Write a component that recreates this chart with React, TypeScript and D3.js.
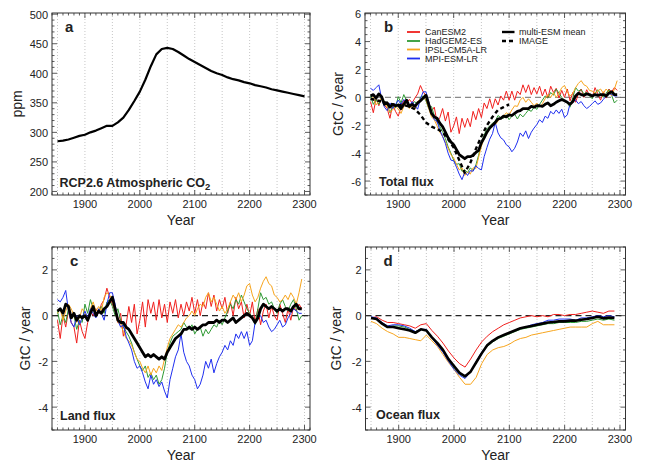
import React from 'react';
import * as d3 from 'd3';

const FONT = '"Liberation Sans", Arial, Helvetica, sans-serif';
const X_DOMAIN: [number, number] = [1840, 2310];

// Colours
const C_RED = '#f0201e';
const C_GREEN = '#2f9a34';
const C_ORANGE = '#f7a51e';
const C_BLUE = '#1f2ff0';

// ---------- Panel a: RCP2.6 CO2 (10-yr, 1850-2300) ----------
const co2Start = 1850;
const co2 = [285, 286, 288, 291, 294, 296, 300, 303, 307, 311, 311, 317, 325, 338, 353, 369, 389, 412, 432, 441,
  443, 441, 436, 430, 424, 419, 414, 409, 404, 400, 397, 393, 390, 388, 385, 383, 380, 378, 376, 373,
  371, 369, 367, 365, 363, 361];

// ---------- Panel b: total flux (5-yr, 1850-2295) ----------
const fluxStart = 1850;
const totalCanESM2 = [-0.3, -1.1, -0.1, -0.6, 0.0, -0.55, -0.8, -1.5, -0.5, -1.0,
  -1.35, -0.7, -0.2, -0.4, -0.15, -0.4, -0.05, 0.25, 0.85, 0.4,
  0.1, -0.35, -1.0, -0.7, -1.8, -1.45, -0.8, -1.7, -1.05, -2.5,
  -2.05, -1.4, -2.6, -1.5, -2.15, -1.5, -2.1, -1.0, -1.6, -0.8,
  -1.45, -0.4, -0.8, -0.1, -0.8, -0.1, -0.55, 0.1, -0.2, 0.45,
  -0.2, 0.45, -0.2, 0.45, 0.2, 0.9, 0.35, 0.9, 0.2, 0.7,
  0.25, 0.8, 0.1, 0.6, -0.05, 0.8, 0.35, 0.65, -0.05, 0.5,
  0.0, 0.6, -0.25, 0.35, -0.35, 0.25, 0.6, 0.0, 0.55, 0.15,
  0.0, 0.7, 0.25, -0.2, 0.4, -0.05, 0.6, 0.4, 0.7, 0.5];
const totalHadGEM2 = [0.1, -0.5, -0.15, -0.5, 0.0, -0.5, -0.5, -1.1, -0.65, -0.75,
  0.05, -0.4, 0.2, -0.25, -0.6, -0.45, -0.3, -0.55, 0.0, 0.1,
  -0.25, -0.8, -0.65, -1.3, -1.75, -2.1, -2.45, -2.95, -3.55, -4.0,
  -4.5, -4.8, -4.75, -5.3, -5.2, -5.4, -5.05, -5.25, -4.85, -4.15,
  -3.25, -2.7, -2.25, -2.05, -1.85, -1.7, -1.3, -1.45, -1.5, -1.25,
  -1.6, -1.35, -1.2, -1.55, -1.2, -1.4, -1.15, -0.9, -1.0, -0.7,
  -0.85, -0.5, -0.2, 0.1, -0.05, 0.35, 0.15, 0.6, 0.3, 0.0,
  -0.2, -0.4, -0.7, 0.0, 0.7, 0.45, 0.55, 0.25, 0.35, 0.1,
  -0.1, 0.3, 0.55, 0.25, 0.0, 0.3, 0.55, 0.15, -0.4, -0.2];
const totalIPSL = [-0.15, 0.0, -0.55, -0.25, -0.05, -0.3, -0.7, -1.05, -0.9, -0.6,
  -0.85, -1.15, -0.65, -0.4, -0.8, -0.6, -0.85, -0.3, -0.1, -0.05,
  -0.15, -0.8, -1.4, -1.6, -2.05, -2.5, -2.8, -3.2, -3.65, -4.1,
  -4.35, -4.8, -5.2, -5.05, -5.6, -5.35, -5.5, -5.05, -5.1, -4.3,
  -3.5, -2.9, -2.5, -2.2, -1.9, -1.95, -1.7, -1.5, -1.35, -1.1,
  -1.25, -0.9, -0.6, -0.65, -0.2, 0.0, -0.35, -0.1, -0.35, -0.6,
  -0.4, -0.7, -0.45, -0.1, 0.2, 0.0, 0.35, 0.0, 0.3, 0.7,
  0.85, 0.4, 0.1, 0.3, 0.7, 1.0, 1.2, 0.9, 0.8, 0.5,
  0.45, 0.3, 0.45, 0.6, 0.3, 0.6, 0.4, 0.1, 0.6, 1.2];
const totalMPI = [0.65, 0.5, 0.7, 0.9, -0.1, -0.7, -0.95, -0.4, -0.8, -0.5,
  -0.2, -0.5, -0.15, -0.4, -0.65, -0.3, -0.6, -0.85, -0.1, 0.4,
  0.4, -0.3, -1.15, -1.6, -1.7, -2.35, -2.8, -3.3, -4.0, -4.5,
  -4.55, -5.0, -5.5, -5.9, -5.35, -5.6, -5.25, -5.3, -4.9, -5.1,
  -5.2, -4.25, -3.6, -3.0, -2.6, -1.8, -2.55, -2.9, -3.05, -3.4,
  -3.55, -3.9, -3.65, -3.2, -2.55, -2.8, -2.4, -2.95, -2.5, -2.2,
  -1.95, -1.6, -1.8, -1.35, -1.5, -1.0, -1.2, -0.9, -1.15, -0.85,
  -1.45, -1.25, -0.45, -0.3, -0.2, -0.45, -0.3, -0.6, -0.8, -0.65,
  -0.45, -0.25, -0.5, -0.4, -0.15, 0.1, 0.3, 0.2, 0.1, 0.1];
const totalMean = [0.1, 0.2, -0.05, 0.25, 0.05, -0.5, -0.4, -0.7, -0.5, -0.6,
  -0.55, -0.8, -0.5, -0.2, -0.65, -0.5, -0.65, -0.4, -0.25, -0.05,
  0.15, -0.5, -1.15, -1.4, -1.5, -1.85, -2.1, -2.5, -2.9, -3.2,
  -3.4, -3.75, -4.1, -4.25, -4.4, -4.25, -4.25, -4.15, -3.95, -3.8,
  -3.25, -2.9, -2.5, -2.2, -2.0, -1.8, -1.55, -1.5, -1.35, -1.4,
  -1.25, -1.3, -1.15, -1.0, -0.95, -0.8, -0.8, -0.8, -0.65, -0.7,
  -0.6, -0.6, -0.65, -0.5, -0.4, -0.6, -0.5, -0.35, -0.25, -0.15,
  -0.25, -0.35, -0.5, -0.3, 0.1, 0.3, 0.2, 0.15, 0.25, 0.2,
  0.1, 0.2, 0.15, 0.2, 0.2, 0.1, 0.3, 0.4, 0.2, 0.2];
// IMAGE model (10-yr, 1850-2100)
const imageStart = 1850;
const totalIMAGE = [-0.1, -0.2, -0.3, -0.4, -0.5, -0.55, -0.55, -0.65, -0.85, -1.25, -1.8, -2.1, -2.25, -2.5,
  -3.0, -3.6, -4.5, -5.4, -4.7, -3.7, -2.8, -2.0, -1.4, -0.9, -0.7, -0.5];

// ---------- Panel c: land flux (5-yr, 1850-2295) ----------
const landCanESM2 = [-0.2, -1.0, 0.0, -0.5, 0.2, -0.3, -0.5, -1.2, -0.2, -0.7,
  -1.0, -0.3, 0.2, 0.0, 0.3, 0.1, 0.5, 0.7, 1.2, 0.8,
  0.5, 0.2, -0.3, 0.1, -0.9, -0.4, 0.4, -0.3, 0.5, -0.8,
  -0.2, 0.6, -0.5, 0.7, 0.1, 0.6, -0.2, 0.7, -0.1, 0.5,
  -0.3, 0.6, 0.1, 0.7, -0.1, 0.5, 0.0, 0.6, 0.2, 0.8,
  0.1, 0.7, 0.0, 0.6, 0.3, 1.0, 0.4, 0.9, 0.2, 0.7,
  0.3, 0.8, 0.1, 0.6, 0.0, 0.8, 0.3, 0.6, -0.1, 0.5,
  0.0, 0.6, -0.3, 0.3, -0.4, 0.2, 0.5, -0.1, 0.4, 0.0,
  -0.2, 0.5, 0.1, -0.3, 0.3, -0.2, 0.4, 0.2, 0.5, 0.3];
const landHadGEM2 = [0.2, -0.4, 0.0, -0.3, 0.3, -0.1, 0.0, -0.6, -0.2, -0.3,
  0.5, 0.1, 0.7, 0.3, 0.0, 0.2, 0.4, 0.1, 0.6, 0.7,
  0.4, 0.0, 0.3, -0.2, -0.5, -0.7, -0.9, -1.2, -1.6, -1.9,
  -2.2, -2.4, -2.2, -2.7, -2.5, -2.8, -2.6, -3.0, -2.8, -2.3,
  -1.6, -1.2, -0.9, -0.8, -0.7, -0.6, -0.3, -0.5, -0.6, -0.4,
  -0.8, -0.6, -0.5, -0.9, -0.6, -0.8, -0.6, -0.4, -0.5, -0.2,
  -0.4, -0.1, 0.2, 0.5, 0.3, 0.7, 0.5, 0.9, 0.6, 0.3,
  0.1, -0.1, -0.4, 0.3, 1.0, 0.7, 0.8, 0.5, 0.6, 0.3,
  0.1, 0.5, 0.7, 0.4, 0.2, 0.5, 0.7, 0.3, -0.2, 0.0];
const landIPSL = [0.1, 0.3, -0.2, 0.2, 0.5, 0.3, 0.0, -0.3, -0.1, 0.3,
  0.1, -0.2, 0.3, 0.6, 0.2, 0.4, 0.2, 0.8, 1.0, 0.9,
  0.7, 0.2, -0.3, -0.4, -0.7, -1.0, -1.1, -1.3, -1.6, -1.9,
  -2.0, -2.3, -2.5, -2.2, -2.6, -2.3, -2.5, -2.2, -2.4, -1.9,
  -1.4, -1.0, -0.8, -0.6, -0.4, -0.5, -0.3, -0.1, 0.0, 0.2,
  0.0, 0.3, 0.5, 0.4, 0.8, 1.0, 0.6, 0.8, 0.5, 0.2,
  0.4, 0.1, 0.3, 0.6, 0.9, 0.7, 1.0, 0.6, 0.9, 1.3,
  1.4, 0.9, 0.6, 0.8, 1.2, 1.5, 1.7, 1.4, 1.3, 0.9,
  0.8, 0.6, 0.7, 0.9, 0.7, 1.0, 0.8, 0.5, 1.0, 1.6];
const landMPI = [0.7, 0.6, 0.8, 1.1, 0.2, -0.3, -0.5, 0.0, -0.4, -0.1,
  0.2, -0.1, 0.3, 0.1, -0.1, 0.3, 0.1, -0.2, 0.5, 1.0,
  1.0, 0.5, -0.2, -0.5, -0.4, -0.9, -1.2, -1.5, -2.0, -2.3,
  -2.2, -2.5, -2.9, -3.2, -2.6, -3.0, -2.8, -3.1, -2.9, -3.3,
  -3.6, -2.8, -2.3, -1.8, -1.5, -0.8, -1.6, -2.0, -2.2, -2.6,
  -2.8, -3.2, -3.0, -2.6, -2.0, -2.3, -1.9, -2.5, -2.1, -1.8,
  -1.6, -1.3, -1.5, -1.1, -1.3, -0.8, -1.0, -0.7, -1.0, -0.7,
  -1.3, -1.1, -0.3, -0.1, 0.0, -0.3, -0.2, -0.5, -0.7, -0.6,
  -0.4, -0.2, -0.5, -0.4, -0.1, 0.1, 0.3, 0.2, 0.1, 0.1];
const landMean = [0.2, 0.3, 0.1, 0.5, 0.4, -0.1, 0.1, -0.2, 0.0, -0.1,
  0.0, -0.2, 0.1, 0.4, 0.0, 0.2, 0.1, 0.3, 0.4, 0.6,
  0.8, 0.3, -0.2, -0.3, -0.3, -0.5, -0.6, -0.8, -1.0, -1.2,
  -1.4, -1.6, -1.8, -1.7, -1.8, -1.7, -1.8, -1.9, -1.8, -1.9,
  -1.6, -1.4, -1.2, -1.0, -0.9, -0.8, -0.6, -0.6, -0.5, -0.6,
  -0.5, -0.6, -0.5, -0.4, -0.4, -0.3, -0.3, -0.3, -0.2, -0.3,
  -0.2, -0.2, -0.3, -0.2, -0.1, -0.3, -0.2, -0.1, 0.0, 0.1,
  0.0, -0.1, -0.3, -0.1, 0.3, 0.5, 0.4, 0.3, 0.4, 0.3,
  0.2, 0.3, 0.2, 0.3, 0.3, 0.2, 0.4, 0.5, 0.3, 0.3];

// ---------- Panel d: ocean flux (10-yr, 1850-2290) ----------
const oceanStart = 1850;
const oceanCanESM2 = [-0.1, -0.05, -0.2, -0.3, -0.3, -0.35, -0.4, -0.45, -0.55, -0.4, -0.35, -0.65, -0.9, -1.2, -1.55,
  -1.85, -2.1, -2.25, -1.9, -1.5, -1.15, -0.9, -0.7, -0.55, -0.4, -0.3, -0.2, -0.1, -0.05, 0.0,
  -0.05, 0.0, -0.05, 0.05, 0.05, 0.0, 0.05, 0.05, 0.1, 0.15, 0.2, 0.15, 0.1, 0.2, 0.2];
const oceanHadGEM2 = [-0.1, -0.15, -0.3, -0.5, -0.45, -0.45, -0.5, -0.6, -0.7, -0.6, -0.65, -0.95, -1.25, -1.55, -1.95,
  -2.3, -2.55, -2.7, -2.45, -2.05, -1.65, -1.35, -1.15, -1.0, -0.9, -0.8, -0.7, -0.6, -0.55, -0.5,
  -0.45, -0.4, -0.35, -0.35, -0.3, -0.3, -0.3, -0.3, -0.25, -0.25, -0.2, -0.15, -0.2, -0.15, -0.2];
const oceanIPSL = [-0.25, -0.35, -0.55, -0.7, -0.8, -0.95, -0.95, -1.0, -1.05, -1.1, -0.85, -1.1, -1.35, -1.7, -2.05,
  -2.35, -2.7, -3.0, -3.0, -2.7, -2.1, -1.7, -1.5, -1.4, -1.35, -1.25, -1.1, -1.0, -0.95, -0.85,
  -0.8, -0.75, -0.7, -0.65, -0.6, -0.55, -0.5, -0.5, -0.5, -0.5, -0.35, -0.25, -0.4, -0.4, -0.4];
const oceanMPI = [-0.05, -0.1, -0.3, -0.45, -0.4, -0.4, -0.45, -0.55, -0.7, -0.6, -0.6, -0.95, -1.3, -1.6, -2.0,
  -2.35, -2.6, -2.75, -2.45, -2.0, -1.6, -1.3, -1.1, -0.95, -0.85, -0.75, -0.65, -0.55, -0.5, -0.4,
  -0.35, -0.3, -0.2, -0.2, -0.15, -0.15, -0.15, -0.2, -0.1, -0.1, -0.05, 0.0, -0.05, 0.0, -0.05];
const oceanMean = [-0.1, -0.15, -0.35, -0.5, -0.5, -0.55, -0.6, -0.65, -0.75, -0.6, -0.65, -0.95, -1.2, -1.5, -1.9,
  -2.2, -2.5, -2.65, -2.45, -2.05, -1.65, -1.3, -1.1, -0.95, -0.85, -0.75, -0.65, -0.55, -0.5, -0.45,
  -0.4, -0.35, -0.3, -0.28, -0.25, -0.25, -0.22, -0.22, -0.18, -0.15, -0.1, -0.05, -0.12, -0.08, -0.1];

// Tick labels
const xTickYears = [1900, 2000, 2100, 2200, 2300];
const ticksA = [200, 250, 300, 350, 400, 450, 500];
const ticksB = [-6, -4, -2, 0, 2, 4, 6];
const ticksCD = [-4, -2, 0, 2];

// Legend
const legendModels = ['CanESM2', 'HadGEM2-ES', 'IPSL-CM5A-LR', 'MPI-ESM-LR'];
const legendColors = [C_RED, C_GREEN, C_ORANGE, C_BLUE];

type Series = { values: number[]; start: number; step: number; color: string; width: number; dash?: string };
type PanelSpec = {
  id: string; letter: string; letterDx: number; label: string; labelDx: number; labelDy: number;
  x0: number; x1: number; y0: number; y1: number; yDomain: [number, number];
  yTicks: number[]; yMinor: number; yTitle: string; yTitleDx: number;
  zero?: { color: string; dash: string }; series: Series[]; co2?: boolean;
};

const models = (vals: number[][], start: number, step: number): Series[] =>
  vals.map((v, i) => ({ values: v, start, step, color: legendColors[i], width: 1 }));

const panels: PanelSpec[] = [
  {
    id: 'a', letter: 'a', letterDx: 13, label: 'RCP2.6 Atmospheric CO', labelDx: 7.5, labelDy: 8.5,
    x0: 52, x1: 310, y0: 13, y1: 195, yDomain: [194, 502], yTicks: ticksA, yMinor: 10, yTitle: 'ppm', yTitleDx: 35,
    series: [{ values: co2, start: co2Start, step: 10, color: '#000', width: 2.2 }], co2: true,
  },
  {
    id: 'b', letter: 'b', letterDx: 19, label: 'Total flux', labelDx: 14, labelDy: 9.5,
    x0: 365, x1: 625.5, y0: 13, y1: 195, yDomain: [-7, 6.05], yTicks: ticksB, yMinor: 0.5, yTitle: 'GtC / year', yTitleDx: 27,
    zero: { color: '#8a8a8a', dash: '6,4' },
    series: [
      ...models([totalCanESM2, totalHadGEM2, totalIPSL, totalMPI], fluxStart, 5),
      { values: totalMean, start: fluxStart, step: 5, color: '#000', width: 2.8 },
      { values: totalIMAGE, start: imageStart, step: 10, color: '#000', width: 2.4, dash: '4,3' },
    ],
  },
  {
    id: 'c', letter: 'c', letterDx: 18, label: 'Land flux', labelDx: 8, labelDy: 10,
    x0: 52, x1: 310, y0: 247, y1: 430, yDomain: [-5, 3], yTicks: ticksCD, yMinor: 0.5, yTitle: 'GtC / year', yTitleDx: 27,
    zero: { color: '#222', dash: '6,4' },
    series: [
      ...models([landCanESM2, landHadGEM2, landIPSL, landMPI], fluxStart, 5),
      { values: landMean, start: fluxStart, step: 5, color: '#000', width: 2.8 },
    ],
  },
  {
    id: 'd', letter: 'd', letterDx: 18, label: 'Ocean flux', labelDx: 10.5, labelDy: 11,
    x0: 365.5, x1: 625.5, y0: 247, y1: 430, yDomain: [-5, 3], yTicks: ticksCD, yMinor: 0.5, yTitle: 'GtC / year', yTitleDx: 29,
    zero: { color: '#222', dash: '6,4' },
    series: [
      ...models([oceanCanESM2, oceanHadGEM2, oceanIPSL, oceanMPI], oceanStart, 10),
      { values: oceanMean, start: oceanStart, step: 10, color: '#000', width: 2.6 },
    ],
  },
];

function Panel({ p }: { p: PanelSpec }) {
  const x = d3.scaleLinear().domain(X_DOMAIN).range([p.x0, p.x1]);
  const y = d3.scaleLinear().domain(p.yDomain).range([p.y1, p.y0]);
  const gridYears = d3.range(1850, 2301, 50);
  const xMinor = d3.range(1840, 2311, 10);
  const yMinor = d3.range(Math.ceil(p.yDomain[0] / p.yMinor) * p.yMinor, p.yDomain[1] + 1e-9, p.yMinor);
  const clipId = `clip-${p.id}`;
  const cx = (p.x0 + p.x1) / 2;
  const cy = (p.y0 + p.y1) / 2;
  const tickColor = '#333';
  return (
    <g>
      <defs>
        <clipPath id={clipId}>
          <rect x={p.x0} y={p.y0} width={p.x1 - p.x0} height={p.y1 - p.y0} />
        </clipPath>
      </defs>
      <rect x={p.x0} y={p.y0} width={p.x1 - p.x0} height={p.y1 - p.y0} fill="#fff" />
      {gridYears.map((g) => (
        <line key={`g${g}`} x1={x(g)} x2={x(g)} y1={p.y0} y2={p.y1} stroke="#b8b8b8" strokeWidth={0.8} strokeDasharray="1,2" />
      ))}
      {p.zero && (
        <line x1={p.x0} x2={p.x1} y1={y(0)} y2={y(0)} stroke={p.zero.color} strokeWidth={1.2} strokeDasharray={p.zero.dash} />
      )}
      <g clipPath={`url(#${clipId})`}>
        {p.series.map((s, i) => {
          const line = d3.line<number>().x((_, k) => x(s.start + k * s.step)).y((v) => y(v));
          return (
            <path key={i} d={line(s.values) || ''} fill="none" stroke={s.color} strokeWidth={s.width}
              strokeDasharray={s.dash} strokeLinejoin="round" />
          );
        })}
      </g>
      {/* ticks */}
      {xMinor.map((t) => {
        const major = t % 100 === 0;
        const len = major ? 5 : 2.5;
        return (
          <g key={`xt${t}`}>
            <line x1={x(t)} x2={x(t)} y1={p.y1} y2={p.y1 - len} stroke={tickColor} strokeWidth={0.8} />
            <line x1={x(t)} x2={x(t)} y1={p.y0} y2={p.y0 + len} stroke={tickColor} strokeWidth={0.8} />
          </g>
        );
      })}
      {yMinor.map((t) => {
        const major = p.yTicks.some((m) => Math.abs(m - t) < 1e-6);
        const len = major ? 5 : 2.5;
        return (
          <g key={`yt${t}`}>
            <line x1={p.x0} x2={p.x0 + len} y1={y(t)} y2={y(t)} stroke={tickColor} strokeWidth={0.8} />
            <line x1={p.x1} x2={p.x1 - len} y1={y(t)} y2={y(t)} stroke={tickColor} strokeWidth={0.8} />
          </g>
        );
      })}
      <rect x={p.x0} y={p.y0} width={p.x1 - p.x0} height={p.y1 - p.y0} fill="none" stroke="#333" strokeWidth={1} />
      {/* tick labels */}
      {xTickYears.map((t) => (
        <text key={`xl${t}`} x={x(t)} y={p.y1 + 13} textAnchor="middle" fontSize={11} fill="#222">{t}</text>
      ))}
      {p.yTicks.map((t) => (
        <text key={`yl${t}`} x={p.x0 - 4} y={y(t) + 4.5} textAnchor="end" fontSize={11} fill="#222">{t}</text>
      ))}
      <text x={cx} y={p.y1 + 29.5} textAnchor="middle" fontSize={14} fill="#222">Year</text>
      <text transform={`translate(${p.x0 - p.yTitleDx},${cy}) rotate(-90)`} textAnchor="middle" dy="0.35em" fontSize={14} fill="#222">{p.yTitle}</text>
      <text x={p.x0 + p.letterDx} y={p.y0 + 18.5} fontSize={15} fontWeight="bold" fill="#222">{p.letter}</text>
      <text x={p.x0 + p.labelDx} y={p.y1 - p.labelDy} fontSize={12.5} fontWeight="bold" fill="#222">
        {p.label}
        {p.co2 && <tspan fontSize={9.5} dy={3}>2</tspan>}
      </text>
    </g>
  );
}

function Legend() {
  const rows = [32, 41, 49.5, 58.5];
  return (
    <g fontSize={9} fill="#222">
      {legendModels.map((m, i) => (
        <g key={m}>
          <line x1={407} x2={420} y1={rows[i]} y2={rows[i]} stroke={legendColors[i]} strokeWidth={1.8} />
          <text x={425} y={rows[i] + 3.3}>{m}</text>
        </g>
      ))}
      <line x1={502} x2={514.5} y1={rows[0]} y2={rows[0]} stroke="#000" strokeWidth={2.4} />
      <text x={519} y={rows[0] + 3.3}>multi-ESM mean</text>
      <line x1={502} x2={514.5} y1={rows[1]} y2={rows[1]} stroke="#000" strokeWidth={2.4} strokeDasharray="4,3" />
      <text x={519} y={rows[1] + 3.3}>IMAGE</text>
    </g>
  );
}

export default function App() {
  return (
    <svg width={645} height={466} viewBox="0 0 645 466"
      style={{ position: 'absolute', left: 0, top: 0, background: '#fff', fontFamily: FONT }}>
      <rect x={0} y={0} width={645} height={466} fill="#fff" />
      {panels.map((p) => <Panel key={p.id} p={p} />)}
      <Legend />
    </svg>
  );
}
